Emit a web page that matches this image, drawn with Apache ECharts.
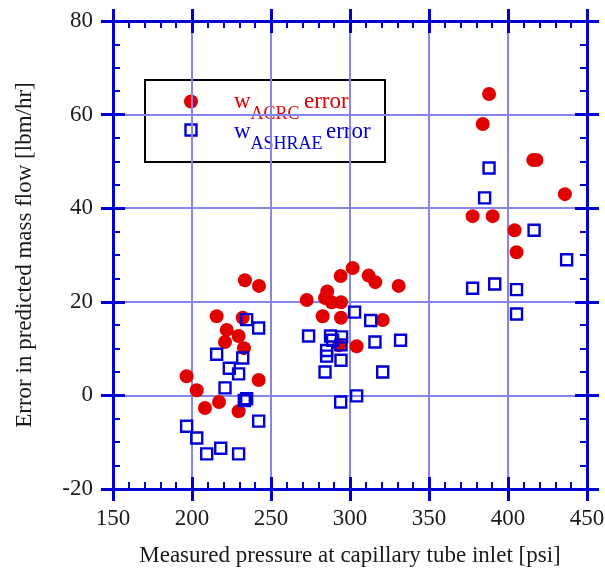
<!DOCTYPE html>
<html>
<head>
<meta charset="utf-8">
<title>Mass flow prediction error vs. inlet pressure</title>
<script src="https://cdn.jsdelivr.net/npm/echarts@6/dist/echarts.min.js"></script>
<style>
  html, body { margin: 0; padding: 0; background: #ffffff; }
  #chart { width: 605px; height: 570px; }
</style>
</head>
<body>
<div id="chart"></div>
<script>
// ACRC correlation: pressure [psi] and prediction error [lbm/hr]
const acrcPressure = [
  233.5, 242.4, 215.6, 232.1, 222.0, 229.5, 220.9, 232.9, 196.6, 242.2, 203.0, 217.1, 208.2, 229.5,
  301.7, 294.1, 311.8, 316.0, 330.8, 285.6, 272.6, 284.2, 288.4, 294.3, 282.7, 294.3, 320.7, 304.2, 293.2,
  388.0, 384.0, 416.0, 418.0, 436.0, 377.6, 390.3, 404.2, 405.4
];
const acrcError = [
  24.6, 23.4, 16.9, 16.6, 14.0, 12.7, 11.4, 10.1, 4.1, 3.3, 1.1, -1.4, -2.7, -3.4,
  27.2, 25.5, 25.6, 24.2, 23.4, 22.2, 20.4, 20.8, 19.9, 19.9, 16.9, 16.6, 16.1, 10.5, 10.7,
  64.4, 58.0, 50.3, 50.3, 43.0, 38.3, 38.3, 35.3, 30.6
];

// ASHRAE correlation: pressure [psi] and prediction error [lbm/hr]
const ashraePressure = [
  234.6, 242.2, 215.6, 232.1, 223.6, 229.5, 220.9, 234.6, 233.1, 242.2, 196.6, 203.0, 209.3, 218.2, 229.5,
  302.9, 313.1, 273.8, 287.7, 289.0, 294.7, 315.8, 332.0, 285.2, 294.3, 285.2, 294.3, 284.2, 320.7, 304.2, 294.1,
  388.0, 385.2, 416.5, 437.1, 377.6, 391.6, 405.4, 405.4
];
const ashraeError = [
  16.2, 14.4, 8.8, 8.0, 5.8, 4.6, 1.6, -0.7, -1.1, -5.5, -6.6, -9.1, -12.5, -11.3, -12.5,
  17.8, 16.0, 12.7, 12.7, 11.8, 12.5, 11.4, 11.8, 9.6, 10.8, 8.4, 7.5, 5.0, 5.0, -0.1, -1.4,
  48.6, 42.2, 35.3, 29.0, 22.9, 23.8, 22.6, 17.4
];

// Axis ranges and tick steps
const xRange = { min: 150, max: 450, step: 50, minorSplit: 5 };
const yRange = { min: -20, max: 80, step: 20, minorSplit: 4 };

const xTitle = 'Measured pressure at capillary tube inlet [psi]';
const yTitle = 'Error in predicted mass flow [lbm/hr]';

const RED = '#e00000';
const BLUE = '#0000d4';
const GRID = '#8585ec';
const INK = '#1a1a1a';
const FONT = '"Liberation Serif", "Times New Roman", serif';

function zip(xs, ys) {
  return xs.map((x, i) => [x, ys[i]]);
}

// One axis of the frame. "primary" carries the line and minor ticks;
// the overlay copy only adds the outward half of the major ticks.
function makeAxis(range, position, primary, withLabels, outward) {
  const ax = {
    type: 'value',
    position: position,
    min: range.min,
    max: range.max,
    interval: range.step,
    axisLine: { show: primary, onZero: false, lineStyle: { color: BLUE, width: 3 } },
    axisTick: { show: true, inside: !outward, length: 12, lineStyle: { color: BLUE, width: 3 } },
    minorTick: {
      show: primary,
      splitNumber: range.minorSplit,
      length: 7,
      lineStyle: { color: BLUE, width: 2 }
    },
    splitLine: { show: false },
    minorSplitLine: { show: false },
    axisLabel: { show: false }
  };
  if (withLabels) {
    ax.axisLabel = { show: true, color: INK, fontFamily: FONT, fontSize: 23 };
    ax.splitLine = { show: true, lineStyle: { color: GRID, width: 2 } };
  }
  return ax;
}

const xBottom = makeAxis(xRange, 'bottom', true, true, false);
xBottom.axisLabel.margin = 18;
xBottom.name = xTitle;
xBottom.nameLocation = 'middle';
xBottom.nameGap = 55;
xBottom.nameTextStyle = { color: INK, fontFamily: FONT, fontSize: 23 };

const yLeft = makeAxis(yRange, 'left', true, true, false);
yLeft.axisLabel.margin = 20;
yLeft.name = yTitle;
yLeft.nameLocation = 'middle';
yLeft.nameGap = 77;
yLeft.nameTextStyle = { color: INK, fontFamily: FONT, fontSize: 23 };

function legendText(str, x, y, size, color) {
  return {
    type: 'text', x: x, y: y,
    style: { text: str, fill: color, font: size + 'px ' + FONT, verticalAlign: 'bottom' }
  };
}

const option = {
  animation: false,
  backgroundColor: '#ffffff',
  grid: {
    left: 113, right: 18, top: 21, bottom: 81,
    containLabel: false,
    outerBoundsMode: 'none'
  },
  xAxis: [
    xBottom,
    makeAxis(xRange, 'bottom', false, false, true),
    makeAxis(xRange, 'top', true, false, false),
    makeAxis(xRange, 'top', false, false, true)
  ],
  yAxis: [
    yLeft,
    makeAxis(yRange, 'left', false, false, true),
    makeAxis(yRange, 'right', true, false, false),
    makeAxis(yRange, 'right', false, false, true)
  ],
  series: [
    {
      name: 'ACRC',
      type: 'scatter',
      xAxisIndex: 0,
      yAxisIndex: 0,
      symbol: 'circle',
      symbolSize: 14,
      itemStyle: { color: RED, opacity: 1 },
      emphasis: { disabled: true },
      data: zip(acrcPressure, acrcError),
      z: 3
    },
    {
      name: 'ASHRAE',
      type: 'scatter',
      xAxisIndex: 0,
      yAxisIndex: 0,
      symbol: 'rect',
      symbolSize: 11,
      itemStyle: { color: 'rgba(255,255,255,0)', borderColor: BLUE, borderWidth: 2.4, opacity: 1 },
      emphasis: { disabled: true },
      data: zip(ashraePressure, ashraeError),
      z: 4
    }
  ],
  graphic: [
    {
      type: 'group',
      z: 100,
      children: [
        {
          type: 'rect',
          shape: { x: 145, y: 80, width: 240, height: 82 },
          style: { fill: '#ffffff', stroke: '#000000', lineWidth: 2 }
        },
        { type: 'circle', shape: { cx: 191, cy: 101.5, r: 7 }, style: { fill: RED } },
        {
          type: 'rect',
          shape: { x: 185.5, y: 124.5, width: 11, height: 11 },
          style: { fill: 'rgba(0,0,0,0)', stroke: BLUE, lineWidth: 2.4 }
        },
        // w with subscript ACRC, then "error"
        legendText('w', 234, 113.5, 23, RED),
        legendText('ACRC', 250.5, 123.5, 18, RED),
        legendText('error', 304, 113.5, 23, RED),
        // w with subscript ASHRAE, then "error"
        legendText('w', 234, 143, 23, BLUE),
        legendText('ASHRAE', 250.5, 153.5, 18, BLUE),
        legendText('error', 326, 143, 23, BLUE)
      ]
    }
  ]
};

const chart = echarts.init(document.getElementById('chart'), null, { renderer: 'canvas' });
chart.setOption(option);
</script>
</body>
</html>
